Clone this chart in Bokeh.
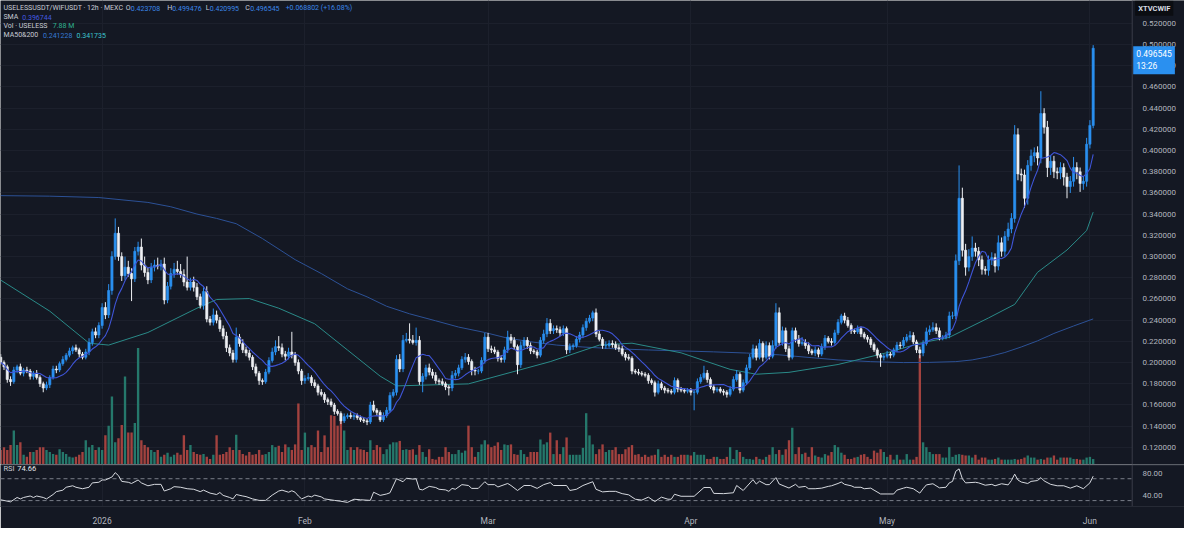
import numpy as np
import pandas as pd
from bokeh.plotting import figure
from bokeh.layouts import column
from bokeh.models import (Range1d, FixedTicker, Span, Label, PrintfTickFormatter,
                          ColumnDataSource, BoxAnnotation)
from bokeh.embed import file_html
from bokeh.resources import INLINE

# ---------------- data ----------------
START = "2025-12-16 12:00"          # first visible 12h candle
first_open = 0.205
close = [
 0.200,0.196,0.184,0.182,0.193,0.196,0.190,0.193,0.192,0.187,
 0.190,0.186,0.180,0.176,0.179,0.186,0.194,0.193,0.199,0.203,
 0.207,0.211,0.214,0.212,0.208,0.205,0.210,0.219,0.229,0.226,
 0.235,0.252,0.245,0.268,0.300,0.322,0.300,0.282,0.290,0.284,
 0.279,0.305,0.309,0.292,0.285,0.278,0.290,0.292,0.291,0.293,
 0.259,0.272,0.284,0.288,0.286,0.283,0.276,0.271,0.276,0.271,
 0.262,0.254,0.267,0.241,0.238,0.245,0.240,0.232,0.225,0.214,
 0.209,0.203,0.224,0.218,0.212,0.209,0.205,0.196,0.190,0.183,
 0.182,0.191,0.202,0.210,0.215,0.214,0.208,0.206,0.210,0.207,
 0.200,0.192,0.183,0.185,0.186,0.181,0.178,0.172,0.170,0.165,
 0.163,0.160,0.154,0.152,0.145,0.149,0.150,0.149,0.150,0.148,
 0.146,0.145,0.144,0.160,0.155,0.153,0.146,0.150,0.155,0.169,
 0.172,0.203,0.194,0.221,0.222,0.221,0.219,0.221,0.182,0.187,
 0.195,0.191,0.188,0.183,0.182,0.180,0.177,0.176,0.188,0.190,
 0.195,0.203,0.205,0.201,0.193,0.192,0.192,0.202,0.224,0.213,
 0.212,0.210,0.204,0.203,0.212,0.224,0.221,0.215,0.198,0.216,
 0.221,0.216,0.211,0.210,0.207,0.221,0.227,0.237,0.230,0.232,
 0.231,0.228,0.232,0.212,0.215,0.216,0.222,0.226,0.233,0.239,
 0.242,0.247,0.227,0.222,0.216,0.216,0.218,0.217,0.214,0.213,
 0.208,0.205,0.204,0.192,0.191,0.190,0.189,0.188,0.183,0.181,
 0.172,0.180,0.176,0.174,0.173,0.172,0.183,0.175,0.174,0.173,
 0.174,0.172,0.172,0.182,0.186,0.190,0.184,0.177,0.174,0.175,
 0.173,0.172,0.170,0.175,0.184,0.189,0.174,0.181,0.195,0.205,
 0.213,0.205,0.218,0.205,0.216,0.206,0.216,0.247,0.219,0.230,
 0.213,0.205,0.230,0.222,0.218,0.219,0.216,0.211,0.209,0.212,
 0.208,0.215,0.223,0.220,0.219,0.228,0.238,0.244,0.240,0.235,
 0.230,0.229,0.232,0.227,0.224,0.222,0.217,0.212,0.207,0.205,
 0.206,0.208,0.207,0.212,0.2165,0.216,0.221,0.224,0.2256,0.2195,
 0.212,0.209,0.218,0.229,0.231,0.233,0.230,0.224,0.224,0.226,
 0.244,0.244,0.296,0.355,0.306,0.290,0.300,0.308,0.305,0.297,
 0.288,0.287,0.297,0.299,0.291,0.313,0.305,0.319,0.326,0.336,
 0.415,0.378,0.377,0.355,0.386,0.395,0.398,0.393,0.435,0.422,
 0.384,0.390,0.380,0.379,0.384,0.375,0.366,0.371,0.384,0.380,
 0.369,0.371,0.406,0.423708,0.496545]
# upper / lower wick lengths, in thousandths of a price unit
wick_up = [
 3,2,2,3,3,2,3,2,3,2, 2,3,2,2,3,2,3,3,2,3, 2,3,2,3,2,2,3,4,3,4, 3,4,5,6,5,14,6,4,10,6,
 5,4,5,8,8,5,4,5,7,4, 6,4,5,6,8,7,5,24,4,5, 4,3,4,5,3,6,4,3,3,4, 3,3,9,3,4,3,3,2,3,2,
 2,3,3,4,6,10,4,3,4,19, 3,3,2,3,4,2,3,2,3,2, 2,3,2,2,2,3,2,3,2,2, 2,2,2,3,4,2,2,3,3,3,
 3,4,5,5,6,15,5,12,4,3, 3,4,3,3,2,3,2,2,4,3, 3,3,4,3,2,3,2,3,4,4, 3,3,2,3,3,6,3,3,2,4,
 3,3,3,2,2,3,4,5,4,3, 3,3,3,2,3,2,3,3,3,3, 3,2,4,3,2,4,3,3,3,3, 3,2,3,2,2,3,2,2,2,2,
 2,3,2,2,2,2,3,2,2,2, 2,2,2,3,3,7,3,2,2,2, 2,2,2,3,3,4,2,3,3,3, 4,3,4,2,4,3,5,9,5,4,
 3,3,3,3,4,5,3,3,2,3, 2,3,3,2,3,3,3,2,3,3, 2,2,3,2,2,2,2,2,2,2, 2,3,2,2,3,3,3,3,4,3,
 2,3,3,4,4,5,4,3,2,3, 4,4,6,31,10,6,7,11,5,4, 4,3,4,5,4,7,5,5,6,5, 9,6,5,5,5,6,5,6,21,5,
 6,5,5,4,5,4,4,5,10,5, 4,5,6,5,2.931]
wick_dn = [
 2,3,3,4,2,3,2,3,2,3, 3,2,3,4,2,3,2,3,2,2, 2,2,3,2,3,2,2,3,3,3, 3,3,4,3,4,3,4,5,4,3,
 21,3,4,5,4,4,3,4,3,4, 4,3,3,4,3,3,4,3,3,4, 3,3,4,3,3,3,3,3,3,4, 3,3,3,3,3,3,3,3,3,4,
 3,2,2,2,3,3,3,4,3,3, 3,3,4,3,2,3,2,3,2,3, 3,2,3,2,3,2,2,2,3,2, 2,2,3,2,2,3,2,2,2,2,
 2,3,3,3,2,3,2,3,3,10, 3,3,3,3,3,2,3,7,3,3, 3,2,3,3,5,4,3,2,3,3, 3,2,3,3,3,3,3,3,9,3,
 3,3,3,2,3,2,3,3,3,3, 3,3,3,4,3,3,2,3,3,3, 2,3,3,2,3,3,2,3,2,3, 2,3,2,3,2,2,2,2,3,2,
 4,2,2,3,2,2,2,3,2,2, 2,3,17,2,2,2,3,2,3,2, 2,3,3,2,2,2,3,2,2,2, 2,3,2,4,2,3,2,3,3,3,
 3,3,2,3,3,2,3,3,2,3, 3,2,3,2,3,2,2,2,3,2, 3,2,2,3,2,3,3,2,3,9, 3,2,3,2,2,3,2,2,3,2,
 3,5,3,2,3,2,3,3,3,2, 3,3,3,4,6,8,4,4,5,6, 5,4,5,5,6,4,5,5,4,4, 4,6,6,9,6,5,6,7,5,6,
 9,7,6,6,6,8,11,6,5,7, 8,6,5,4,2.713]
volume_m = [
 21,25,21,28,49,28,32,14,11,18, 18,21,25,25,21,18,15,14,22,18, 15,11,10,11,14,18,35,25,28,21,
 25,21,42,56,98,32,38,57,127,46, 46,60,168,35,28,25,21,18,21,11, 14,17,11,14,17,14,42,21,28,18,
 15,14,15,11,8,14,42,14,15,18, 25,21,43,21,15,13,18,14,15,21, 14,15,18,28,25,27,18,29,25,21,
 29,88,21,46,25,28,25,49,18,42, 25,71,70,56,63,49,21,25,21,25, 22,21,18,35,21,28,25,15,22,29,
 32,32,34,21,22,21,22,14,28,18, 11,22,8,7,11,11,25,18,15,15, 21,17,20,56,25,11,18,29,35,29,
 25,27,32,21,29,28,29,15,14,21, 15,11,18,18,18,36,29,32,46,15, 35,15,25,39,14,14,14,14,24,74,
 42,29,15,22,29,18,21,21,25,15, 15,22,25,28,14,15,11,14,11,13, 14,22,11,14,11,14,11,11,14,14,
 14,13,18,14,14,14,8,8,11,11, 8,8,11,25,8,21,18,11,8,8, 7,11,8,7,11,14,25,15,21,14,
 22,35,53,15,25,15,17,11,25,13, 11,10,15,13,18,28,25,17,14,8, 8,10,11,14,15,11,8,20,17,22,
 18,11,14,7,14,7,7,15,7,7, 11,158,32,25,18,15,15,15,10,10, 25,11,14,15,14,13,13,10,14,7,
 10,10,7,7,8,10,7,7,7,7, 8,7,8,10,13,10,10,7,8,7, 10,10,13,7,10,10,10,10,8,8,
 7,7,10,11,7.88]
ma200_i = [0,15,30,45,52,60,66,72,80,90,98,106,112,118,125,133,140,148,155,163,170,178,188,198,
           208,218,228,238,248,256,266,276,284,292,297,302,307,312,317,322,328,334]
ma200_v = [0.3575,0.3570,0.3557,0.3511,0.3470,0.3401,0.3360,0.3310,0.3170,0.2971,0.2840,0.2696,
           0.2620,0.2531,0.2460,0.2394,0.2335,0.2284,0.2230,0.2192,0.2165,0.2147,0.2130,0.2119,
           0.2110,0.2101,0.2090,0.2073,0.2046,0.2025,0.2009,0.2000,0.2002,0.2009,0.2025,0.2055,
           0.2095,0.2147,0.2205,0.2275,0.2345,0.2412]
ma50_i = [0,15,27,33,45,60,66,76,85,96,106,116,121,143,168,183,193,208,223,231,241,256,272,281,
          290,302,310,317,326,332,334]
ma50_v = [0.2778,0.2485,0.2183,0.2165,0.2284,0.2513,0.2595,0.2604,0.2513,0.2366,0.2119,0.1872,
          0.1780,0.1799,0.2009,0.2165,0.2183,0.2092,0.1936,0.1890,0.1908,0.1982,0.2101,0.2183,
          0.2238,0.2421,0.2549,0.2852,0.3062,0.3245,0.3419]
rsi_i = [0,3,5,6,7,9,10,11,13,14,16,17,19,20,22,23,25,27,28,30,31,32,34,35,36,37,39,40,42,43,45,47,49,
         50,52,53,55,57,59,61,62,64,66,67,68,70,71,72,74,75,77,79,81,83,85,86,88,89,90,91,92,94,95,96,98,99,
         102,104,106,108,110,113,114,116,118,119,121,123,124,126,127,128,129,131,133,134,136,137,138,139,
         141,143,144,146,148,149,151,152,155,156,158,160,162,164,166,168,169,173,174,176,178,181,182,184,
         186,188,190,192,194,196,198,200,202,204,205,206,208,212,215,217,218,221,224,225,227,230,231,232,
         234,235,237,238,241,243,244,246,247,249,251,253,254,256,257,258,260,261,263,264,266,267,269,271,
         273,274,276,277,279,281,282,283,285,287,289,290,291,292,293,294,295,298,299,301,303,304,306,308,
         309,310,311,312,314,315,317,318,319,321,323,325,327,329,331,333,334]
rsi_v = [31.5,27.7,35.7,33.1,35.7,38.4,35.7,38.4,35.7,33.1,41.1,46.4,49.1,54.4,57.1,54.4,51.7,54.4,62.4,
         63.5,67.7,67.7,73.1,81.1,75.7,65.1,63.5,61.3,67.7,62.4,57.1,59.7,59.7,47.5,51.7,55.5,54.4,51.7,
         50.7,46.4,49.1,43.7,41.1,44.8,39.5,35.7,33.1,41.1,38.4,37.3,33.1,30.4,30.4,40.0,47.5,49.1,45.3,
         48.0,45.3,38.4,33.1,38.4,36.8,40.0,36.8,33.1,30.4,28.8,26.7,32.5,31.5,30.4,45.3,39.5,42.1,44.3,
         69.9,64.5,70.9,69.3,69.9,50.7,49.6,56.0,53.9,50.7,49.6,46.9,52.3,50.7,59.2,57.6,52.3,52.3,64.5,
         59.2,59.2,54.9,61.3,57.6,48.5,57.6,57.6,52.3,59.2,62.9,57.6,57.6,48.5,50.7,57.6,64.5,50.7,45.9,
         46.9,46.9,42.7,40.5,32.5,30.9,36.3,28.3,36.3,32.5,32.5,41.6,37.9,37.9,53.9,53.9,43.2,42.7,44.3,
         57.6,48.5,68.3,60.3,65.6,59.2,59.2,72.0,60.3,53.0,59.7,54.4,56.0,51.7,51.7,52.8,56.0,57.1,61.3,
         64.0,59.7,57.1,54.4,54.4,51.7,52.8,49.1,42.1,42.1,42.1,49.1,52.8,54.4,51.7,43.7,51.7,58.7,60.8,
         53.3,54.4,62.4,65.1,83.7,88.0,70.0,62.4,63.5,62.4,58.1,59.7,57.1,60.8,58.7,66.7,78.4,67.7,64.0,
         61.3,65.1,66.7,72.0,66.0,59.7,57.1,57.1,52.8,57.1,51.7,62.4,74.66]
price_ticks = [0.12,0.14,0.16,0.18,0.20,0.22,0.24,0.26,0.28,0.30,0.32,0.34,0.36,0.38,0.40,
               0.42,0.44,0.46,0.48,0.50,0.52]
rsi_ticks = [40, 80]
rsi_bands = [70, 30]
month_dates = ["2026-01-01", "2026-02-01", "2026-03-01", "2026-04-01", "2026-05-01", "2026-06-01"]
month_labels = ["2026", "Feb", "Mar", "Apr", "May", "Jun"]

# ---------------- derived ----------------
n = len(close)
H12 = 12 * 3600 * 1000
t0 = pd.Timestamp(START).value // 10**6
xs = [t0 + i * H12 for i in range(n)]
op = [first_open] + close[:-1]
hi = [max(o, c) + u / 1000.0 for o, c, u in zip(op, close, wick_up)]
lo = [min(o, c) - d / 1000.0 for o, c, d in zip(op, close, wick_dn)]
is_up = [c >= o for o, c in zip(op, close)]
sma9 = pd.Series(close).rolling(9, min_periods=1).mean().tolist()
month_ms = [pd.Timestamp(d).value // 10**6 for d in month_dates]

BG = "#141823"
GRID = "#1c202c"
SEP = "#3a3e49"
UP = "#2a90f0"
DN = "#eef0f4"
VUP = "#25786b"
VDN = "#a3423f"
TXT = "#b2b5be"
FONT = "Roboto"

candles = ColumnDataSource(dict(
    x=xs, o=op, c=close, h=hi, l=lo, vol=volume_m,
    body_top=[max(o, c) for o, c in zip(op, close)],
    body_bot=[min(o, c) for o, c in zip(op, close)],
    col=[UP if u else DN for u in is_up],
    vcol=[VUP if u else VDN for u in is_up],
    sma=sma9))

# geometry: the frames span the whole width; the price scale lives inside the frame
W, H_MAIN, H_RSI, XAXH = 1184, 464, 64, 17
KX = W / 1200.0
KY = H_MAIN / 478.0
FHR = H_RSI - XAXH
KYR = FHR / 48.0
X_END_I = 31 + (1200 - 103) / 3.315      # candle index at right window edge
SCALE_I = 31 + (1147 - 103) / 3.315      # candle index at price-scale border
x_range = Range1d(t0 - 0.07 * H12, t0 + X_END_I * H12)
x_scale = t0 + SCALE_I * H12
STANDOFF = -int(round((1200 - 1151) * KX))


def style_axis(a, size="8px"):
    a.major_label_text_font = FONT
    a.major_label_text_font_size = size
    a.major_label_text_color = TXT
    a.major_tick_line_color = None
    a.minor_tick_line_color = None
    a.axis_line_color = None


p = figure(width=W, height=H_MAIN, x_range=x_range, y_range=Range1d(0.10385, 0.54158),
           x_axis_type="datetime", y_axis_location="right", toolbar_location=None,
           output_backend="svg", min_border_left=0, min_border_right=0,
           min_border_top=0, min_border_bottom=0)
p.background_fill_color = BG
p.border_fill_color = BG
p.outline_line_color = None
p.xaxis.visible = False
p.xgrid.ticker = FixedTicker(ticks=month_ms)
p.ygrid.ticker = FixedTicker(ticks=price_ticks)
p.xgrid.grid_line_color = GRID
p.ygrid.grid_line_color = GRID
ax = p.yaxis[0]
ax.ticker = FixedTicker(ticks=price_ticks)
ax.formatter = PrintfTickFormatter(format="%.6f")
style_axis(ax)
ax.major_label_standoff = STANDOFF
# price-scale column: hide grid behind it, draw border line
p.add_layout(BoxAnnotation(left=x_scale, fill_color=BG, fill_alpha=1.0, line_color=None,
                           level="underlay"))
p.add_layout(Span(location=x_scale, dimension="height", line_color=SEP, line_width=1,
                  level="underlay"))

p.extra_y_ranges = {"vol": Range1d(0, 669)}
p.vbar(x="x", top="vol", bottom=0, width=H12 * 0.72, fill_color="vcol", line_color=None,
       y_range_name="vol", source=candles)
p.line([xs[i] for i in ma200_i], ma200_v, line_color="#2c5196", line_width=1)
p.line([xs[i] for i in ma50_i], ma50_v, line_color="#2a8a88", line_width=1)
p.segment(x0="x", y0="h", x1="x", y1="l", line_color="col", line_width=1, source=candles)
p.vbar(x="x", top="body_top", bottom="body_bot", width=H12 * 0.68, fill_color="col",
       line_color="col", line_width=0.6, source=candles)
p.line("x", "sma", line_color="#3f55d8", line_width=1.1, source=candles)


def lab(fig, rx, sy, text, color, size="7px", bold=False, bg=None, pad=0):
    fig.add_layout(Label(x=rx * KX, y=sy, x_units="screen", y_units="screen", text=text,
                         text_color=color, text_font=FONT, text_font_size=size,
                         text_font_style="bold" if bold else "normal",
                         text_align="left", text_baseline="middle",
                         background_fill_color=bg, padding=pad))


def my(ry):
    return H_MAIN - ry * KY


HEAD = "#c9ccd4"
BLUE = "#3a86e8"
l1 = [(3, "USELESSUSDT/WIFUSDT · 12h · MEXC", HEAD), (127, "O", HEAD), (132, "0.423708", BLUE),
      (169, "H", HEAD), (174, "0.499476", BLUE), (208, "L", HEAD), (212, "0.420995", BLUE),
      (248, "C", HEAD), (253, "0.496545", BLUE), (289, "+0.068802 (+16.08%)", BLUE)]
for rx, t, c in l1:
    lab(p, rx, my(8), t, c)
lab(p, 3, my(17), "SMA", HEAD)
lab(p, 22, my(17), "0.396744", "#4258e0")
lab(p, 3, my(26.5), "Vol · USELESS", HEAD)
lab(p, 53, my(26.5), "7.88 M", "#2fb08f")
lab(p, 3, my(36), "MA50&200", HEAD)
lab(p, 43, my(36), "0.241228", "#3579d6")
lab(p, 77, my(36), "0.341735", "#3cc3cf")

# last price tag and symbol box on the price scale
p.add_layout(Label(x=x_scale, y=close[-1], x_units="data", y_units="data",
                   text="%.6f\n13:26" % close[-1], text_color="#ffffff", text_font=FONT,
                   text_font_size="8.5px", text_align="left", text_baseline="top",
                   background_fill_color="#2a90f0", padding=3, x_offset=1, y_offset=2))
lab(p, 1150, my(8), "XTVCWIF", "#d8dbe2", size="7.5px", bold=True, bg="#0b0d12", pad=3)

# ---------------- RSI pane ----------------
r = figure(width=W, height=H_RSI, x_range=x_range, y_range=Range1d(19.2, 96),
           x_axis_type="datetime", y_axis_location="right", toolbar_location=None,
           output_backend="svg", min_border_left=0, min_border_right=0,
           min_border_top=0, min_border_bottom=XAXH)
r.background_fill_color = BG
r.border_fill_color = BG
r.outline_line_color = None
r.ygrid.visible = False
r.xgrid.ticker = FixedTicker(ticks=month_ms)
r.xgrid.grid_line_color = GRID
ra = r.yaxis[0]
ra.ticker = FixedTicker(ticks=rsi_ticks)
ra.formatter = PrintfTickFormatter(format="%.2f")
style_axis(ra)
ra.major_label_standoff = STANDOFF
xa = r.xaxis[0]
xa.ticker = FixedTicker(ticks=month_ms)
xa.major_label_overrides = {m: t for m, t in zip(month_ms, month_labels)}
style_axis(xa, "8.5px")
xa.axis_line_color = "#262a35"
xa.major_label_standoff = 3
for b in rsi_bands:
    r.add_layout(Span(location=b, dimension="width", line_color="#7a7e89",
                      line_dash="4 3", line_width=1, level="underlay"))
r.add_layout(BoxAnnotation(left=x_scale, fill_color=BG, fill_alpha=1.0, line_color=None,
                           level="underlay"))
r.add_layout(Span(location=x_scale, dimension="height", line_color=SEP, line_width=1,
                  level="underlay"))
r.add_layout(Span(location=96, dimension="width", line_color="#4a4e59", line_width=1.5,
                  level="underlay"))
r.line([xs[i] for i in rsi_i], rsi_v, line_color="#d6d9df", line_width=1)


def ry_(ry):
    return FHR - (ry - 479) * KYR


lab(r, 3, ry_(488), "RSI", HEAD, size="7.5px")
lab(r, 17, ry_(488), "74.66", "#e8eaee", size="7.5px")

layout = column(p, r, spacing=0)
open("out.html", "w").write(file_html(layout, INLINE))
